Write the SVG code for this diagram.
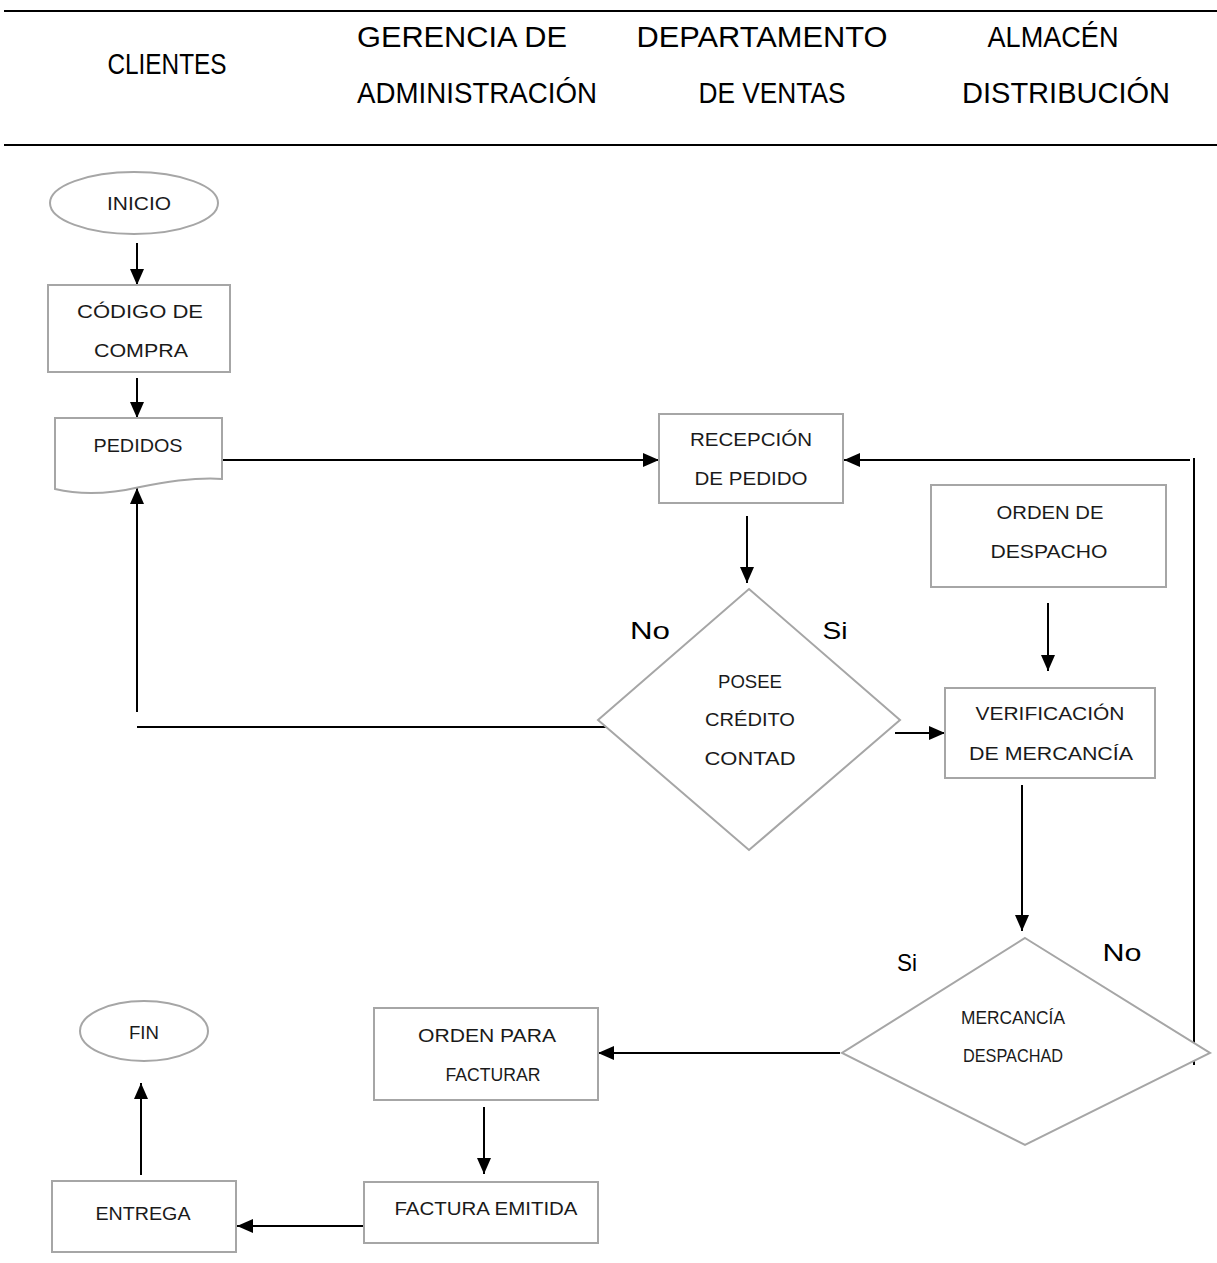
<svg xmlns="http://www.w3.org/2000/svg" width="1217" height="1263" viewBox="0 0 1217 1263">
<style>
.shape{fill:#fff;stroke:#a6a6a6;stroke-width:2}
.wire{stroke:#000;stroke-width:2;fill:none}
.arr{marker-end:url(#ah)}
.t{font-family:"Liberation Sans","DejaVu Sans",sans-serif;font-size:18px;fill:#1a1a1a;text-anchor:middle}
.h{font-family:"Liberation Sans","DejaVu Sans",sans-serif;font-size:30px;fill:#000;text-anchor:middle}
.lbl{font-family:"Liberation Sans","DejaVu Sans",sans-serif;font-size:24px;fill:#000;text-anchor:middle}
</style>
<defs>
<marker id="ah" markerUnits="userSpaceOnUse" markerWidth="16" markerHeight="16" viewBox="0 0 16 16" refX="16" refY="8" orient="auto">
<path d="M0,1 L16,8 L0,15 Z" fill="#000"/>
</marker>
</defs>
<rect width="1217" height="1263" fill="#fff"/>
<g id="header">
<line x1="4" y1="11" x2="1217" y2="11" stroke="#000" stroke-width="2"/>
<line x1="4" y1="145" x2="1217" y2="145" stroke="#000" stroke-width="2"/>
<text class="h" x="167" y="74" textLength="119" lengthAdjust="spacingAndGlyphs">CLIENTES</text>
<text class="h" x="462" y="47" textLength="210" lengthAdjust="spacingAndGlyphs">GERENCIA DE</text>
<text class="h" x="477" y="103" textLength="240" lengthAdjust="spacingAndGlyphs">ADMINISTRACIÓN</text>
<text class="h" x="762" y="47" textLength="251" lengthAdjust="spacingAndGlyphs">DEPARTAMENTO</text>
<text class="h" x="772" y="103" textLength="147" lengthAdjust="spacingAndGlyphs">DE VENTAS</text>
<text class="h" x="1053" y="47" textLength="131" lengthAdjust="spacingAndGlyphs">ALMACÉN</text>
<text class="h" x="1066" y="103" textLength="208" lengthAdjust="spacingAndGlyphs">DISTRIBUCIÓN</text>
</g>
<g id="connectors">
<line class="wire arr" x1="137" y1="243" x2="137" y2="285"/>
<line class="wire arr" x1="137" y1="378" x2="137" y2="418"/>
<line class="wire arr" x1="222" y1="460" x2="659" y2="460"/>
<line class="wire" x1="1194" y1="458" x2="1194" y2="1065"/>
<line class="wire arr" x1="1190" y1="460" x2="844" y2="460"/>
<line class="wire arr" x1="747" y1="516" x2="747" y2="583"/>
<line class="wire" x1="137" y1="727" x2="606" y2="727"/>
<line class="wire arr" x1="137" y1="712" x2="137" y2="488"/>
<line class="wire arr" x1="895" y1="733" x2="945" y2="733"/>
<line class="wire arr" x1="1048" y1="603" x2="1048" y2="671"/>
<line class="wire arr" x1="1022" y1="785" x2="1022" y2="931"/>
<line class="wire arr" x1="840" y1="1053" x2="598" y2="1053"/>
<line class="wire arr" x1="484" y1="1107" x2="484" y2="1174"/>
<line class="wire arr" x1="364" y1="1226" x2="237" y2="1226"/>
<line class="wire arr" x1="141" y1="1175" x2="141" y2="1083"/>
</g>
<g id="inicio">
<ellipse class="shape" cx="134" cy="203" rx="84" ry="31"/>
<text class="t" x="139" y="210" textLength="64" lengthAdjust="spacingAndGlyphs">INICIO</text>
</g>
<g id="codigo">
<rect class="shape" x="48" y="285" width="182" height="87"/>
<text class="t" x="140" y="318" textLength="126" lengthAdjust="spacingAndGlyphs">CÓDIGO DE</text>
<text class="t" x="141" y="357" textLength="94" lengthAdjust="spacingAndGlyphs">COMPRA</text>
</g>
<g id="pedidos">
<path class="shape" d="M55,418 H222 V479 C195,477 165,482 140,487 C110,494 80,495 55,489 Z"/>
<text class="t" x="138" y="452" textLength="89" lengthAdjust="spacingAndGlyphs">PEDIDOS</text>
</g>
<g id="recepcion">
<rect class="shape" x="659" y="414" width="184" height="89"/>
<text class="t" x="751" y="446" textLength="122" lengthAdjust="spacingAndGlyphs">RECEPCIÓN</text>
<text class="t" x="751" y="485" textLength="113" lengthAdjust="spacingAndGlyphs">DE PEDIDO</text>
</g>
<g id="credito">
<polygon class="shape" points="749,589 900,720 749,850 598,720"/>
<text class="t" x="750" y="688" textLength="64" lengthAdjust="spacingAndGlyphs">POSEE</text>
<text class="t" x="750" y="726" textLength="90" lengthAdjust="spacingAndGlyphs">CRÉDITO</text>
<text class="t" x="750" y="765" textLength="91" lengthAdjust="spacingAndGlyphs">CONTAD</text>
<text class="lbl" x="650" y="639" textLength="40" lengthAdjust="spacingAndGlyphs">No</text>
<text class="lbl" x="835" y="639" textLength="25" lengthAdjust="spacingAndGlyphs">Si</text>
</g>
<g id="orden-despacho">
<rect class="shape" x="931" y="485" width="235" height="102"/>
<text class="t" x="1050" y="519" textLength="107" lengthAdjust="spacingAndGlyphs">ORDEN DE</text>
<text class="t" x="1049" y="558" textLength="117" lengthAdjust="spacingAndGlyphs">DESPACHO</text>
</g>
<g id="verificacion">
<rect class="shape" x="945" y="688" width="210" height="90"/>
<text class="t" x="1050" y="720" textLength="149" lengthAdjust="spacingAndGlyphs">VERIFICACIÓN</text>
<text class="t" x="1051" y="760" textLength="164" lengthAdjust="spacingAndGlyphs">DE MERCANCÍA</text>
</g>
<g id="despachada">
<polygon class="shape" points="1025,938 1210,1053 1025,1145 842,1053"/>
<text class="t" x="1013" y="1024" textLength="104" lengthAdjust="spacingAndGlyphs">MERCANCÍA</text>
<text class="t" x="1013" y="1062" textLength="100" lengthAdjust="spacingAndGlyphs">DESPACHAD</text>
<text class="lbl" x="907" y="971" textLength="20" lengthAdjust="spacingAndGlyphs">Si</text>
<text class="lbl" x="1122" y="961" textLength="39" lengthAdjust="spacingAndGlyphs">No</text>
</g>
<g id="orden-facturar">
<rect class="shape" x="374" y="1008" width="224" height="92"/>
<text class="t" x="487" y="1042" textLength="138" lengthAdjust="spacingAndGlyphs">ORDEN PARA</text>
<text class="t" x="493" y="1081" textLength="95" lengthAdjust="spacingAndGlyphs">FACTURAR</text>
</g>
<g id="factura">
<rect class="shape" x="364" y="1182" width="234" height="61"/>
<text class="t" x="486" y="1215" textLength="183" lengthAdjust="spacingAndGlyphs">FACTURA EMITIDA</text>
</g>
<g id="entrega">
<rect class="shape" x="52" y="1181" width="184" height="71"/>
<text class="t" x="143" y="1220" textLength="95" lengthAdjust="spacingAndGlyphs">ENTREGA</text>
</g>
<g id="fin">
<ellipse class="shape" cx="144" cy="1031" rx="64" ry="30"/>
<text class="t" x="144" y="1039" textLength="30" lengthAdjust="spacingAndGlyphs">FIN</text>
</g>
</svg>
